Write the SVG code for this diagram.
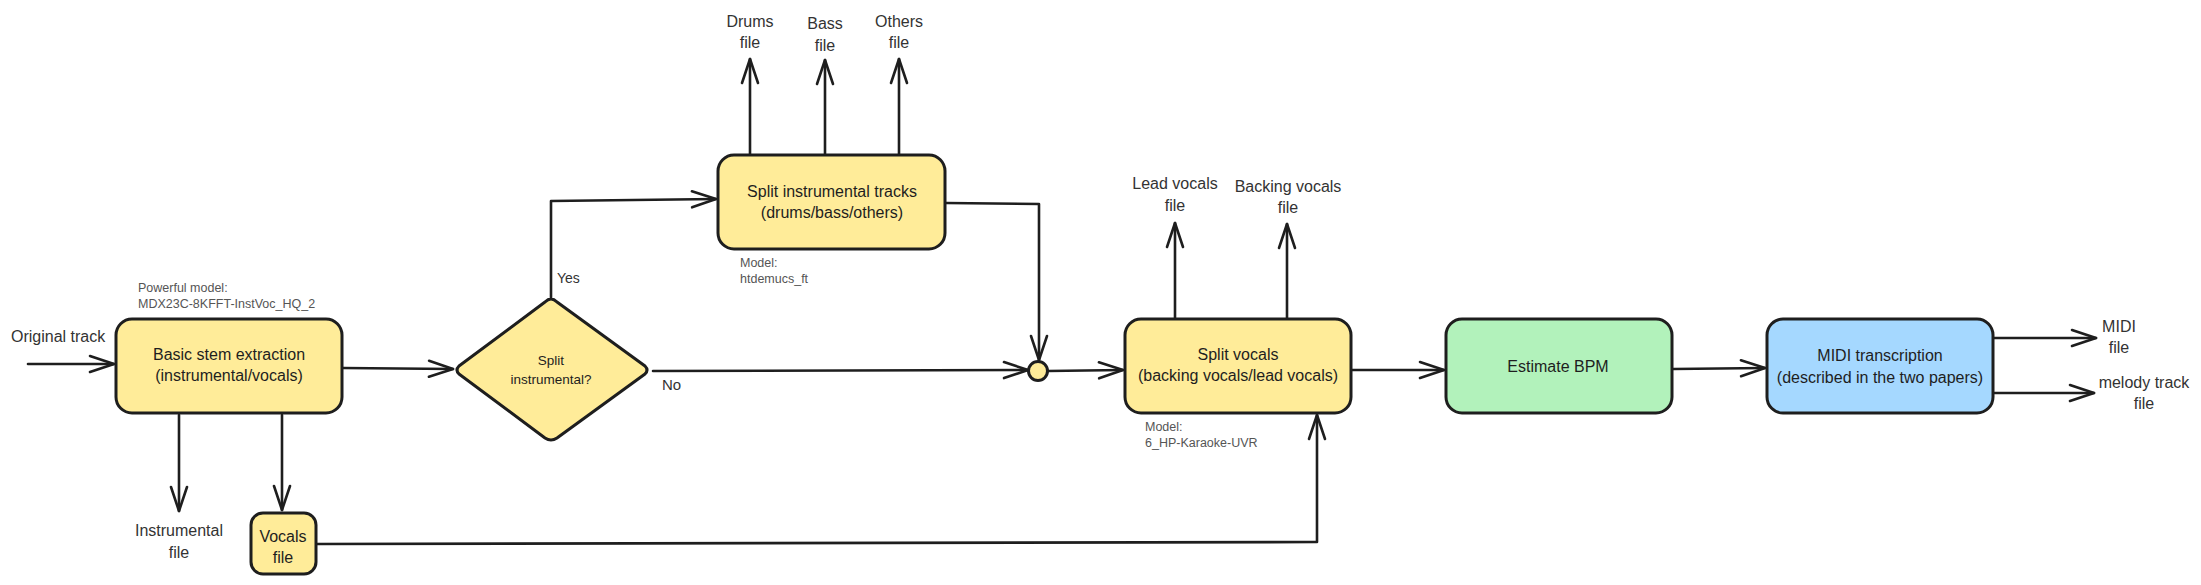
<svg xmlns="http://www.w3.org/2000/svg" width="2201" height="585" viewBox="0 0 2201 585">
<defs>
<style>
.box{stroke:#1e1e1e;stroke-width:3;stroke-linejoin:round}
.y{fill:#ffec99}.g{fill:#b2f2bb}.b{fill:#a5d8ff}
.c{fill:none;stroke:#1e1e1e;stroke-width:2.6;stroke-linecap:round;stroke-linejoin:round}
.t{font-family:"Liberation Sans",Arial,sans-serif;font-size:16px;fill:#1e1e1e;text-anchor:middle}
.l{font-family:"Liberation Sans",Arial,sans-serif;font-size:16px;fill:#333333}
.lc{text-anchor:middle}
.n{font-family:"Liberation Sans",Arial,sans-serif;font-size:12.5px;fill:#555555}
</style>
<marker id="ah" markerUnits="userSpaceOnUse" markerWidth="30" markerHeight="20" viewBox="-26 -10 28 20" refX="0" refY="0" orient="auto" overflow="visible">
<path d="M-24 -8 L0 0 L-24 8" fill="none" stroke="#1e1e1e" stroke-width="2.6" stroke-linecap="round" stroke-linejoin="round"/>
</marker>
</defs>
<rect width="2201" height="585" fill="#ffffff"/>

<g id="connectors">
<path class="c" d="M28 364 L114 364" marker-end="url(#ah)"/>
<path class="c" d="M343 368 L453 369" marker-end="url(#ah)"/>
<path class="c" d="M179 415 L179 511" marker-end="url(#ah)"/>
<path class="c" d="M282 415 L282 510" marker-end="url(#ah)"/>
<path class="c" d="M551 297 L551 201 L716 199" marker-end="url(#ah)"/>
<path class="c" d="M750 154 L750 59" marker-end="url(#ah)"/>
<path class="c" d="M825 154 L825 60" marker-end="url(#ah)"/>
<path class="c" d="M899 154 L899 59" marker-end="url(#ah)"/>
<path class="c" d="M946 203 L1039 204 L1039 360" marker-end="url(#ah)"/>
<path class="c" d="M653 371 L1028 370" marker-end="url(#ah)"/>
<path class="c" d="M1048 371 L1123 370" marker-end="url(#ah)"/>
<path class="c" d="M1175 318 L1175 223" marker-end="url(#ah)"/>
<path class="c" d="M1287 318 L1287 224" marker-end="url(#ah)"/>
<path class="c" d="M317 544 L1317 542 L1317 415" marker-end="url(#ah)"/>
<path class="c" d="M1352 370 L1444 370" marker-end="url(#ah)"/>
<path class="c" d="M1673 369 L1765 368" marker-end="url(#ah)"/>
<path class="c" d="M1994 338 L2096 338" marker-end="url(#ah)"/>
<path class="c" d="M1994 393 L2094 393" marker-end="url(#ah)"/>
</g>

<g id="input-label">
<text class="l" x="11" y="342">Original track</text>
</g>

<g id="basic-stem">
<rect class="box y" x="116" y="319" width="226" height="94" rx="16"/>
<text class="t" x="229" y="360">Basic stem extraction</text>
<text class="t" x="229" y="381">(instrumental/vocals)</text>
<text class="n" x="138" y="292">Powerful model:</text>
<text class="n" x="138" y="308">MDX23C-8KFFT-InstVoc_HQ_2</text>
</g>

<g id="instrumental-file">
<text class="l lc" x="179" y="536">Instrumental</text>
<text class="l lc" x="179" y="558">file</text>
</g>

<g id="vocals-file">
<rect class="box y" x="251" y="513" width="65" height="61" rx="12"/>
<text class="t" x="283" y="542">Vocals</text>
<text class="t" x="283" y="563">file</text>
</g>

<g id="decision">
<path class="box y" d="M551 299 Q554 299 557 302 L645 366 Q649 370 645 374 L557 438 Q551 442 545 438 L459 374 Q455 370 459 366 L545 302 Q548 299 551 299 Z"/>
<text class="t" x="551" y="365" style="font-size:13.5px">Split</text>
<text class="t" x="551" y="384" style="font-size:13.5px">instrumental?</text>
<text class="l" x="557" y="283" style="font-size:14px">Yes</text>
<text class="l" x="662" y="390" style="font-size:15px">No</text>
</g>

<g id="split-instrumental">
<rect class="box y" x="718" y="155" width="227" height="94" rx="16"/>
<text class="t" x="832" y="197">Split instrumental tracks</text>
<text class="t" x="832" y="218">(drums/bass/others)</text>
<text class="n" x="740" y="267">Model:</text>
<text class="n" x="740" y="283">htdemucs_ft</text>
</g>

<g id="stem-files">
<text class="l lc" x="750" y="27">Drums</text>
<text class="l lc" x="750" y="48">file</text>
<text class="l lc" x="825" y="29">Bass</text>
<text class="l lc" x="825" y="51">file</text>
<text class="l lc" x="899" y="27">Others</text>
<text class="l lc" x="899" y="48">file</text>
</g>

<g id="junction">
<circle class="box y" cx="1038" cy="371" r="9.5" stroke-width="2.6"/>
</g>

<g id="split-vocals">
<rect class="box y" x="1125" y="319" width="226" height="94" rx="16"/>
<text class="t" x="1238" y="360">Split vocals</text>
<text class="t" x="1238" y="381">(backing vocals/lead vocals)</text>
<text class="n" x="1145" y="431">Model:</text>
<text class="n" x="1145" y="447">6_HP-Karaoke-UVR</text>
</g>

<g id="vocal-files">
<text class="l lc" x="1175" y="189">Lead vocals</text>
<text class="l lc" x="1175" y="211">file</text>
<text class="l lc" x="1288" y="192">Backing vocals</text>
<text class="l lc" x="1288" y="213">file</text>
</g>

<g id="estimate-bpm">
<rect class="box g" x="1446" y="319" width="226" height="94" rx="16"/>
<text class="t" x="1558" y="372">Estimate BPM</text>
</g>

<g id="midi-transcription">
<rect class="box b" x="1767" y="319" width="226" height="94" rx="16"/>
<text class="t" x="1880" y="361">MIDI transcription</text>
<text class="t" x="1880" y="383">(described in the two papers)</text>
</g>

<g id="outputs">
<text class="l lc" x="2119" y="332">MIDI</text>
<text class="l lc" x="2119" y="353">file</text>
<text class="l lc" x="2144" y="388">melody track</text>
<text class="l lc" x="2144" y="409">file</text>
</g>
</svg>
